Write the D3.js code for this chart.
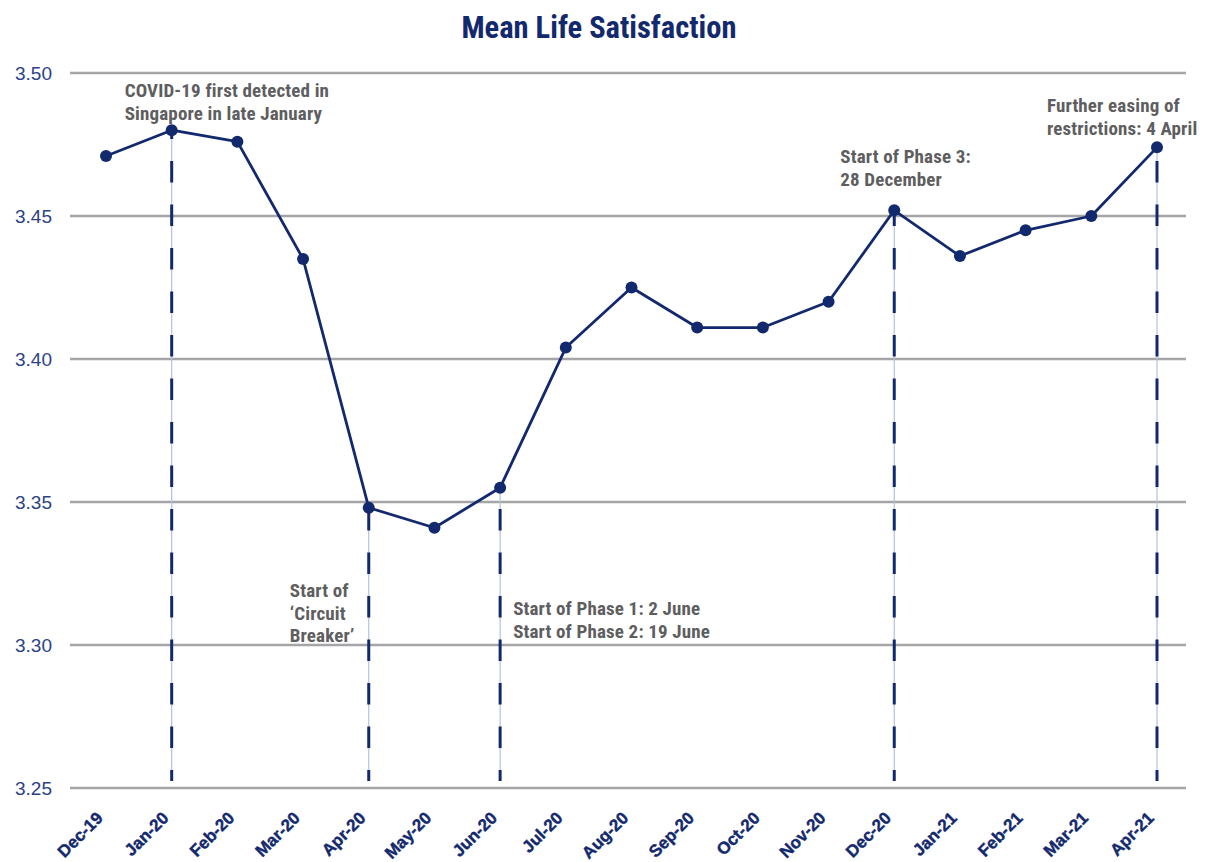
<!DOCTYPE html>
<html>
<head>
<meta charset="utf-8">
<script src="https://cdn.jsdelivr.net/npm/d3@7"></script>
<style>
  html, body { margin: 0; padding: 0; background: #ffffff; }
  svg { display: block; }
  .narrow { font-family: "Liberation Sans Narrow", "Arial Narrow", "Roboto Condensed", sans-serif; font-weight: bold; }
</style>
</head>
<body>
<svg id="chart" width="1206" height="862"></svg>
<script>
// Monthly survey waves
const months = ["Dec-19", "Jan-20", "Feb-20", "Mar-20", "Apr-20", "May-20", "Jun-20", "Jul-20",
  "Aug-20", "Sep-20", "Oct-20", "Nov-20", "Dec-20", "Jan-21", "Feb-21", "Mar-21", "Apr-21"];

// Mean life satisfaction per wave
const meanSatisfaction = [3.471, 3.480, 3.476, 3.435, 3.348, 3.341, 3.355, 3.404,
  3.425, 3.411, 3.411, 3.420, 3.452, 3.436, 3.445, 3.450, 3.474];

// Y-axis ticks
const yTicks = [3.25, 3.30, 3.35, 3.40, 3.45, 3.50];

// Policy milestones marked with dashed drop lines
const eventMonths = ["Jan-20", "Apr-20", "Jun-20", "Dec-20", "Apr-21"];
const eventLabels = [
  ["COVID-19 first detected in", "Singapore in late January"],
  ["Start of", "\u2018Circuit", "Breaker\u2019"],
  ["Start of Phase 1: 2 June", "Start of Phase 2: 19 June"],
  ["Start of Phase 3:", "28 December"],
  ["Further easing of", "restrictions: 4 April"]
];

// Label placement: offset from the event's x, first baseline y
const labelLayout = [
  { dx: -47, y: 97 },
  { dx: -79, y: 597 },
  { dx: 13, y: 615 },
  { dx: -54, y: 163 },
  { dx: -110, y: 112 }
];

const NAVY = "#13296d";
const GRID = "#a5a5a7";
const NOTE = "#5e5e60";

const svg = d3.select("#chart");

const x = d3.scalePoint().domain(months).range([106, 1157]);
const y = d3.scaleLinear().domain([3.25, 3.50]).range([788, 73]);

const gridLeft = 70, gridRight = 1186;

// Title
svg.append("text")
  .attr("class", "narrow")
  .attr("x", 599).attr("y", 38)
  .attr("text-anchor", "middle")
  .attr("font-size", 30.5)
  .attr("fill", NAVY)
  .text("Mean Life Satisfaction");

// Horizontal gridlines (bottom one doubles as the axis)
svg.append("g").selectAll("line").data(yTicks).join("line")
  .attr("x1", gridLeft).attr("x2", gridRight)
  .attr("y1", d => y(d)).attr("y2", d => y(d))
  .attr("stroke", GRID).attr("stroke-width", 2.6);

// Y tick labels
svg.append("g").selectAll("text").data(yTicks).join("text")
  .attr("x", 52).attr("y", d => y(d) + 6.5)
  .attr("text-anchor", "end")
  .attr("font-family", "'Liberation Sans', Arial, sans-serif")
  .attr("font-size", 19)
  .attr("fill", "#2c4287")
  .text(d => d3.format(".2f")(d));

// X tick labels, rotated
svg.append("g").selectAll("text").data(months).join("text")
  .attr("text-anchor", "end")
  .attr("font-family", "'Liberation Sans', Arial, sans-serif")
  .attr("font-weight", "bold")
  .attr("font-size", 17)
  .attr("fill", NAVY)
  .attr("stroke", NAVY)
  .attr("stroke-width", 0.4)
  .attr("transform", d => `translate(${x(d) - 2},${819}) rotate(-45)`)
  .text(d => d);

// Event drop lines: thin light guide plus dashed overlay
const idx = m => months.indexOf(m);
const dropBottom = y(3.25) - 7;
const drops = svg.append("g");
eventMonths.forEach(m => {
  const cx = x(m), top = y(meanSatisfaction[idx(m)]);
  drops.append("line")
    .attr("x1", cx).attr("x2", cx).attr("y1", top).attr("y2", dropBottom)
    .attr("stroke", "#b3c0dd").attr("stroke-width", 1.2);
  drops.append("line")
    .attr("x1", cx).attr("x2", cx).attr("y1", dropBottom).attr("y2", top)
    .attr("stroke", NAVY).attr("stroke-width", 3)
    .attr("stroke-dasharray", "21.5,22")
    .attr("stroke-dashoffset", 10.5);
});

// Series line
const line = d3.line()
  .x((d, i) => x(months[i]))
  .y(d => y(d));

svg.append("path")
  .datum(meanSatisfaction)
  .attr("d", line)
  .attr("fill", "none")
  .attr("stroke", NAVY)
  .attr("stroke-width", 2.8)
  .attr("stroke-linejoin", "round");

svg.append("g").selectAll("circle").data(meanSatisfaction).join("circle")
  .attr("cx", (d, i) => x(months[i]))
  .attr("cy", d => y(d))
  .attr("r", 6)
  .attr("fill", NAVY);

// Event annotations
const notes = svg.append("g");
eventMonths.forEach((m, k) => {
  const t = notes.append("text")
    .attr("class", "narrow")
    .attr("font-size", 19)
    .attr("letter-spacing", 0.15)
    .attr("fill", NOTE);
  eventLabels[k].forEach((s, j) => {
    t.append("tspan")
      .attr("x", x(m) + labelLayout[k].dx)
      .attr("y", labelLayout[k].y + j * 22.5)
      .text(s);
  });
});
</script>
</body>
</html>
